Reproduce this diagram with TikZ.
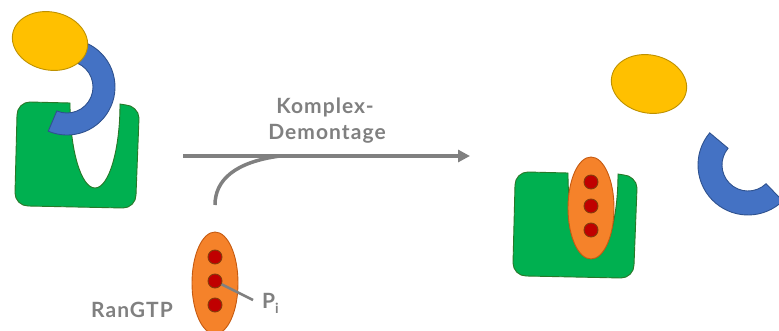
\documentclass[tikz,border=0pt]{standalone}
\usepackage{fontspec}
\setmainfont{Lato}
\newfontfamily\tagfont[LetterSpace=5]{Lato}
\usetikzlibrary{shapes.geometric,arrows.meta}

\definecolor{grnfill}{RGB}{0,176,80}
\definecolor{grnline}{RGB}{40,120,40}
\definecolor{yelfill}{RGB}{255,192,0}
\definecolor{yelline}{RGB}{190,145,0}
\definecolor{blufill}{RGB}{68,114,196}
\definecolor{bluline}{RGB}{47,82,143}
\definecolor{orgfill}{RGB}{245,130,42}
\definecolor{orgline}{RGB}{197,90,17}
\definecolor{dotfill}{RGB}{192,0,0}
\definecolor{dotline}{RGB}{132,60,12}
\definecolor{txtgray}{RGB}{128,128,128}

\tikzset{
  body/.style={fill=grnfill,draw=grnline,line width=0.9pt},
  cargo/.style={ellipse,fill=yelfill,draw=yelline,line width=0.9pt,
    minimum width=76pt,minimum height=58pt,inner sep=0pt,rotate=-12},
  ring/.style={fill=blufill,draw=bluline,line width=0.9pt},
  ran/.style={ellipse,fill=orgfill,draw=orgline,line width=0.9pt,
    minimum width=46pt,minimum height=102pt,inner sep=0pt},
  phos/.style={circle,fill=dotfill,draw=dotline,line width=0.9pt,
    minimum size=14pt,inner sep=0pt},
  gtext/.style={text=txtgray,font=\tagfont\bfseries\fontsize{21}{25}\selectfont},
  flow/.style={draw=txtgray,line width=3.5pt},
}

% green receptor body (rounded outer corners) with an elliptic pocket in its top edge
\newcommand\receptorbody{%
  \path[body] (70,227) -- (30,228) .. controls (22.8,228) and (17,222.2) .. (17,215)
    -- (15,137) .. controls (15,129.8) and (20.8,124) .. (28,124)
    -- (123,122) .. controls (130.2,122) and (136,127.8) .. (136,135)
    -- (139,212) .. controls (139,219.2) and (131.8,225) .. (126,225)
    -- (120,226) arc[start angle=0,end angle=-180,x radius=25,y radius=84]
    -- cycle;}

\begin{document}
\begin{tikzpicture}[x=1pt,y=1pt]
\clip (0,0) rectangle (779,330);

% ---- assembled complex (left) ----
\receptorbody
\coordinate (lc) at (67,243);
\path[ring] ([shift={(100:48)}]lc) arc[start angle=100,end angle=-113,radius=48]
  -- ([shift={(-113:26)}]lc) arc[start angle=-113,end angle=100,radius=26] -- cycle;
\node[cargo] (capL) at (50,289) {};

% ---- incoming RanGTP ----
\node[ran] (ranL) at (215,47) {};
\node[phos] (dL1) at (215,73) {};
\node[phos] (dL2) at (215,49) {};
\node[phos] (dL3) at (215,25) {};
\node[gtext,anchor=base] (ranlabel) at (132,13) {RanGTP};
\node[gtext,anchor=base west,inner sep=0pt] (pi) at (262,22)
  {P\raisebox{-5pt}{\fontsize{14}{14}\selectfont i}};
\draw[txtgray,line width=2.5pt] (dL2) -- ([xshift=-9pt,yshift=8pt]pi.base west);

% ---- reaction arrow ----
\coordinate (src) at (183,174);
\coordinate (dst) at (470,174);
\coordinate (merge) at (280,174);
\coordinate (tail) at (215,125);
\draw[flow,-{Triangle[length=12pt,width=12pt]}] (src) -- (dst);
\draw[flow] (tail) .. controls (215,150) and (235,168) .. (merge);
\node[gtext,anchor=base] (t1) at (325,217) {Komplex-};
\node[gtext,anchor=base] (t2) at (327,191) {Demontage};

% ---- released parts (right) ----
\node[cargo] (capR) at (649,246) {};
\coordinate (rc) at (748,165);
\path[ring] ([shift={(140:50)}]rc) arc[start angle=140,end angle=314,radius=50]
  -- ([shift={(314:26)}]rc) arc[start angle=314,end angle=140,radius=26] -- cycle;
\begin{scope}[shift={(498,-70)}]
  \receptorbody
\end{scope}
\node[ran] (ranR) at (591,122) {};
\node[phos] (dR1) at (591,148) {};
\node[phos] (dR2) at (591,124) {};
\node[phos] (dR3) at (591,100) {};
\end{tikzpicture}
\end{document}
